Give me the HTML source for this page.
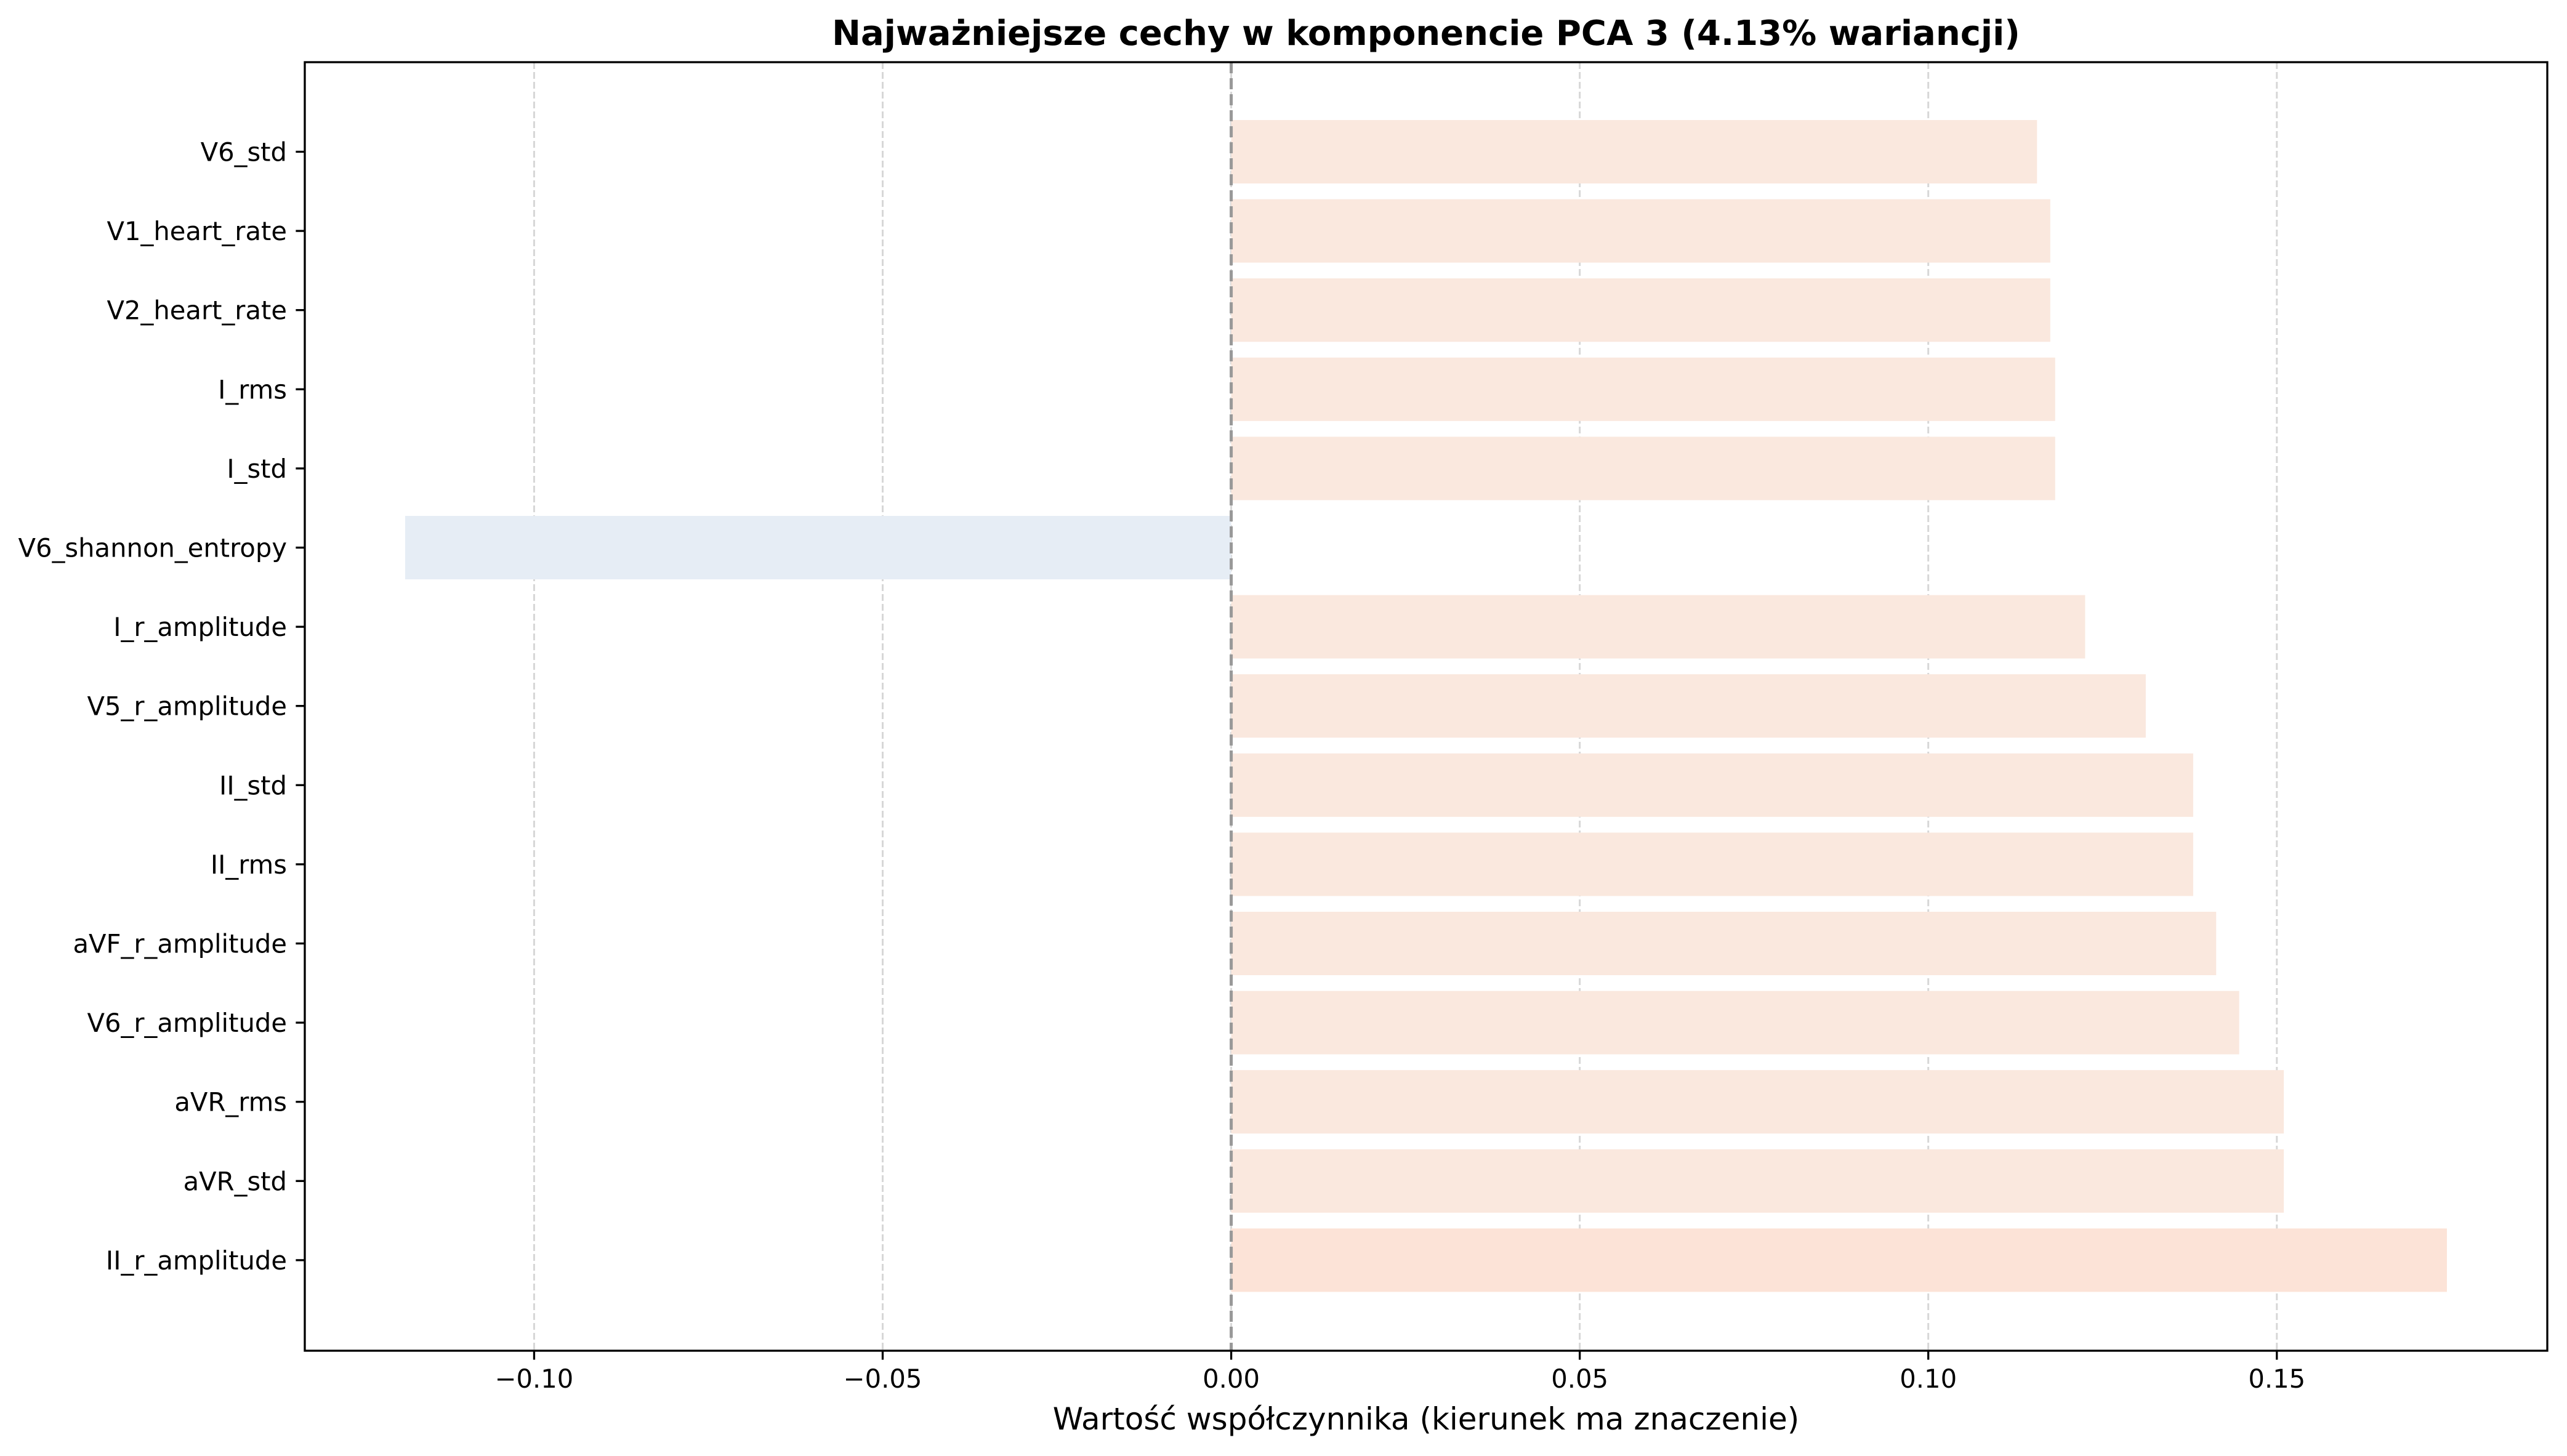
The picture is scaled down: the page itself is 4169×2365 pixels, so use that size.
<!DOCTYPE html>
<html><head><meta charset="utf-8"><style>html,body{margin:0;padding:0;background:#fff}svg{display:block}text{font-family:"DejaVu Sans","Liberation Sans",sans-serif}</style></head>
<body>
<svg id="chart" xmlns="http://www.w3.org/2000/svg" width="4169" height="2365" viewBox="0 0 4169 2365">
<rect width="4169" height="2365" fill="#fff"/>
<g id="grid"></g><g id="bars"></g><g id="axes"></g>
</svg>
<script>
const categories = ["V6_std","V1_heart_rate","V2_heart_rate","I_rms","I_std","V6_shannon_entropy","I_r_amplitude","V5_r_amplitude","II_std","II_rms","aVF_r_amplitude","V6_r_amplitude","aVR_rms","aVR_std","II_r_amplitude"];
const values = [0.1156,0.1175,0.1175,0.1182,0.1182,-0.1185,0.1225,0.1312,0.138,0.138,0.1413,0.1446,0.151,0.151,0.1744];
const xTicks = [-0.10,-0.05,0.00,0.05,0.10,0.15];
const xTickLabels = ["\u22120.10","\u22120.05","0.00","0.05","0.10","0.15"];

const NS="http://www.w3.org/2000/svg";
const L=495,R=4137,T=101,B=2194;
const xmin=-0.1329,xmax=0.1888;
const X=v=>L+(v-xmin)/(xmax-xmin)*(R-L);
const Y=i=>246.5+i*128.6;
const BH=103;
function mk(tag,attrs,parent){const e=document.createElementNS(NS,tag);for(const k in attrs)e.setAttribute(k,attrs[k]);parent.appendChild(e);return e;}
const grid=document.getElementById('grid'),bars=document.getElementById('bars'),axes=document.getElementById('axes');

xTicks.forEach((t,i)=>{
  const g=mk('line',{x1:X(t),x2:X(t),y1:T,y2:B,stroke:'#b0b0b0','stroke-opacity':0.5,'stroke-width':3,'stroke-dasharray':'11,5'},grid);
  
  
});

values.forEach((v,i)=>{
  const x0=X(0),x1=X(v);
  const last=i===values.length-1;
  const r=mk('rect',{x:Math.min(x0,x1),y:Y(i)-BH/2,width:Math.abs(x1-x0),height:BH,fill:v<0?'#e6edf5':(last?'#fce3d7':'#fae8de')},bars);
  
  
});

const z=mk('line',{x1:X(0),x2:X(0),y1:T,y2:B,stroke:'#999','stroke-width':5,'stroke-dasharray':'18,8'},axes);



const fr=mk('rect',{x:L,y:T,width:R-L,height:B-T,fill:'none',stroke:'#000','stroke-width':3.3},axes);



xTicks.forEach((t,i)=>{
  mk('line',{x1:X(t),x2:X(t),y1:B,y2:B+14.6,stroke:'#000','stroke-width':3.3},axes);
  const tx=mk('text',{x:X(t),y:B+60,'text-anchor':'middle','font-size':41.7,fill:'#000'},axes);
  tx.textContent=xTickLabels[i];
  
  
});
categories.forEach((c,i)=>{
  mk('line',{x1:L-14.6,x2:L,y1:Y(i),y2:Y(i),stroke:'#000','stroke-width':3.3},axes);
  const tx=mk('text',{x:L-29,y:Y(i)+15,'text-anchor':'end','font-size':41.7,fill:'#000'},axes);
  tx.textContent=c;
  
  
});
const xl=mk('text',{x:(L+R)/2,y:2322,'text-anchor':'middle','font-size':50,fill:'#000'},axes);
xl.textContent="Wartość współczynnika (kierunek ma znaczenie)";


const tt=mk('text',{x:(L+R)/2,y:73,'text-anchor':'middle','font-size':56,'font-weight':'bold',fill:'#000'},axes);
tt.textContent="Najważniejsze cechy w komponencie PCA 3 (4.13% wariancji)";


</script>
</body></html>
